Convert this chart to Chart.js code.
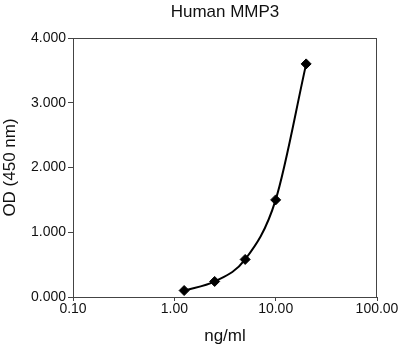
<!DOCTYPE html>
<html>
<head>
<meta charset="utf-8">
<script src="https://cdn.jsdelivr.net/npm/chart.js@4.4.1/dist/chart.umd.min.js"></script>
<style>
  html, body { margin: 0; padding: 0; background: #fff; }
  #wrap { width: 400px; height: 351px; }
</style>
</head>
<body>
<div id="wrap"><canvas id="odChart" width="400" height="351"></canvas></div>
<script>
  // standard curve values
  const concentrations = [1.25, 2.5, 5, 10, 20];
  const odValues = [0.10, 0.24, 0.58, 1.50, 3.60];
  const xTicks = [0.1, 1, 10, 100];
  const yTicks = [0, 1, 2, 3, 4];

  const axisColor = '#444';
  const fontFamily = '"Liberation Sans", Arial, sans-serif';

  // frame around plot area (top + right edges)
  const frame = {
    id: 'frame',
    afterDraw(chart) {
      const { ctx, chartArea } = chart;
      ctx.save();
      ctx.strokeStyle = axisColor;
      ctx.lineWidth = 1;
      ctx.strokeRect(chartArea.left + 0.5, chartArea.top + 0.5,
        chartArea.right - chartArea.left - 1, chartArea.bottom - chartArea.top);
      ctx.restore();
    }
  };

  new Chart(document.getElementById('odChart'), {
    type: 'scatter',
    data: {
      datasets: [{
        data: concentrations.map((c, i) => ({ x: c, y: odValues[i] })),
        showLine: true,
        borderColor: '#000',
        backgroundColor: '#000',
        borderWidth: 2,
        cubicInterpolationMode: 'monotone',
        pointStyle: 'rectRot',
        pointRadius: 5,
        pointBorderWidth: 1,
        clip: false
      }]
    },
    options: {
      responsive: false,
      animation: false,
      layout: { padding: { top: 0, left: 0, right: 23, bottom: 0 } },
      plugins: {
        legend: { display: false },
        tooltip: { enabled: false },
        title: {
          display: true,
          text: 'Human MMP3',
          fullSize: false,
          color: '#111',
          font: { family: fontFamily, size: 17, weight: 'normal' },
          padding: { top: 2, bottom: 15.6 }
        }
      },
      scales: {
        x: {
          type: 'logarithmic',
          min: 0.1,
          max: 100,
          afterBuildTicks: scale => { scale.ticks = xTicks.map(v => ({ value: v })); },
          afterFit: scale => { scale.height = 54; },
          ticks: {
            color: '#111',
            font: { family: fontFamily, size: 14 },
            padding: 0,
            maxRotation: 0,
            callback: v => Number(v).toFixed(2)
          },
          grid: { drawOnChartArea: false, tickLength: 4, color: axisColor },
          border: { color: axisColor },
          title: {
            display: true,
            text: 'ng/ml',
            color: '#111',
            font: { family: fontFamily, size: 17 },
            padding: { top: 0, bottom: 4 }
          }
        },
        y: {
          min: 0,
          max: 4,
          afterBuildTicks: scale => { scale.ticks = yTicks.map(v => ({ value: v })); },
          afterFit: scale => { scale.width = 73; },
          ticks: {
            color: '#111',
            font: { family: fontFamily, size: 14 },
            padding: 2,
            callback: v => Number(v).toFixed(3)
          },
          grid: { drawOnChartArea: false, tickLength: 5, color: axisColor },
          border: { color: axisColor },
          title: {
            display: true,
            text: 'OD (450 nm)',
            color: '#111',
            font: { family: fontFamily, size: 17 },
            padding: { top: 0, bottom: 0 }
          }
        }
      }
    },
    plugins: [frame]
  });
</script>
</body>
</html>
